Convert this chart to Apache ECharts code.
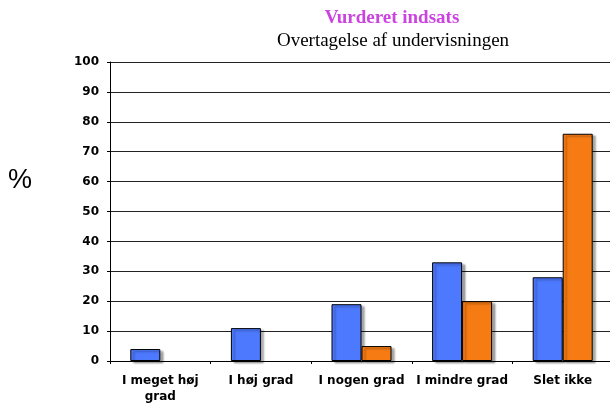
<!DOCTYPE html>
<html>
<head>
<meta charset="utf-8">
<script src="https://cdn.jsdelivr.net/npm/echarts@6/dist/echarts.min.js"></script>
<style>
  html, body { margin: 0; padding: 0; background: #fff; }
  #chart { width: 610px; height: 405px; }
</style>
</head>
<body>
<div id="chart"></div>
<script>
// categories + values
const categories = ["I meget høj\ngrad", "I høj grad", "I nogen grad", "I mindre grad", "Slet ikke"];
const blueValues = [4, 11, 19, 33, 28];
const orangeValues = [0, 0, 5, 20, 76];
const yTicks = { min: 0, max: 100, interval: 10 };

const labelFont = "DejaVu Sans, Liberation Sans, Arial, sans-serif";
const titleFont = "Liberation Serif, Times New Roman, serif";

let myChart = echarts.init(document.getElementById("chart"));

let barStyle = color => ({
	color: color,
	borderColor: "#000",
	borderWidth: 1,
	shadowColor: "rgba(0, 0, 0, 0.35)",
	shadowBlur: 2,
	shadowOffsetX: 3,
	shadowOffsetY: 2
});

// zero bars are not drawn in the reference (no empty outline)
let hideZero = arr => arr.map(v => (v === 0 ? null : v));

let option = {
	animation: false,
	backgroundColor: "#fff",
	title: [
		{
			text: "Vurderet indsats",
			left: 387,
			top: 4,
			textAlign: "center",
			textStyle: {
				fontFamily: titleFont,
				fontWeight: "bold",
				fontSize: 19,
				color: "#cc44e0"
			}
		},
		{
			text: "Overtagelse af undervisningen",
			left: 388,
			top: 27,
			textAlign: "center",
			textStyle: {
				fontFamily: titleFont,
				fontWeight: "normal",
				fontSize: 19,
				color: "#000"
			}
		}
	],
	graphic: [
		{
			type: "text",
			left: 8,
			top: 167,
			style: {
				text: "%",
				font: "27px Liberation Sans, Arial, sans-serif",
				fill: "#000"
			}
		}
	],
	grid: {
		left: 110,
		top: 62,
		width: 503,
		height: 299,
		outerBoundsMode: "none"
	},
	xAxis: {
		type: "category",
		data: categories,
		axisLine: { lineStyle: { color: "#000", width: 1 } },
		axisTick: { show: true, length: 3, lineStyle: { color: "#000" } },
		axisLabel: {
			interval: 0,
			margin: 12,
			fontFamily: labelFont,
			fontWeight: "bold",
			fontSize: 12,
			lineHeight: 16,
			color: "#000"
		}
	},
	yAxis: {
		type: "value",
		min: yTicks.min,
		max: yTicks.max,
		interval: yTicks.interval,
		axisLine: { show: true, lineStyle: { color: "#000", width: 1 } },
		axisTick: { show: true, length: 3, lineStyle: { color: "#000" } },
		splitLine: { show: true, lineStyle: { color: "#222", width: 1 } },
		axisLabel: {
			margin: 11,
			fontFamily: labelFont,
			fontWeight: "bold",
			fontSize: 12,
			color: "#000"
		}
	},
	series: [
		{
			type: "bar",
			data: hideZero(blueValues),
			barWidth: 30,
			barGap: "0%",
			itemStyle: barStyle("#4d79ff")
		},
		{
			type: "bar",
			data: hideZero(orangeValues),
			barWidth: 30,
			barGap: "0%",
			itemStyle: barStyle("#f77b13")
		}
	]
};

myChart.setOption(option);
</script>
</body>
</html>
